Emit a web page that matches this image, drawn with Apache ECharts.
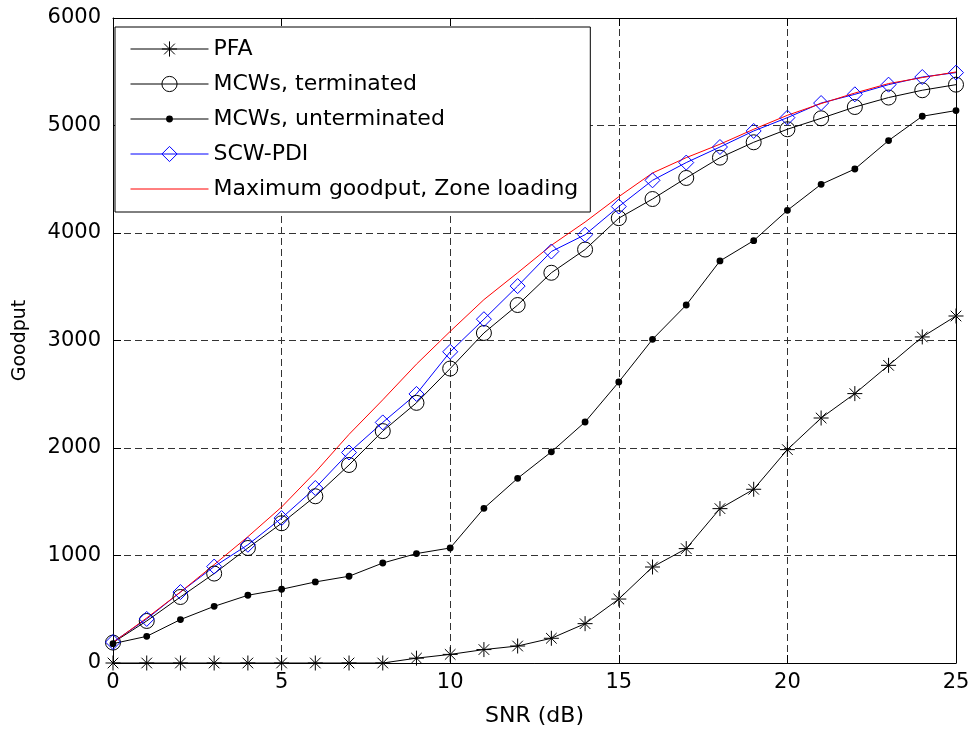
<!DOCTYPE html>
<html>
<head>
<meta charset="utf-8">
<title>Goodput vs SNR</title>
<script src="https://cdn.jsdelivr.net/npm/echarts@6/dist/echarts.min.js"></script>
<style>
  html, body { margin: 0; padding: 0; background: #fff; }
  #chart { width: 974px; height: 733px; }
</style>
</head>
<body>
<div id="chart"></div>
<script>
// SNR sweep (dB)
const snr = [0, 1, 2, 3, 4, 5, 6, 7, 8, 9, 10, 11, 12, 13, 14, 15, 16, 17, 18, 19, 20, 21, 22, 23, 24, 25];

// Goodput per scheme
const pfa = [0, 0, 0, 0, 0, 0, 0, 0, 0, 45, 80, 125, 158, 230, 366, 595, 893, 1064, 1436, 1616, 1985, 2279, 2506, 2769, 3033, 3228];
const mcwTerminated = [190, 391, 614, 832, 1070, 1300, 1551, 1842, 2157, 2420, 2739, 3070, 3330, 3630, 3846, 4138, 4316, 4512, 4701, 4844, 4965, 5067, 5172, 5260, 5328, 5380];
const mcwUnterminated = [180, 248, 404, 527, 630, 686, 754, 807, 930, 1018, 1070, 1439, 1718, 1964, 2242, 2614, 3011, 3330, 3740, 3929, 4211, 4453, 4595, 4860, 5086, 5139];
const scwPdi = [195, 410, 660, 897, 1100, 1348, 1628, 1958, 2238, 2503, 2895, 3198, 3506, 3828, 3984, 4246, 4490, 4655, 4800, 4949, 5073, 5209, 5290, 5380, 5451, 5492];
const maxGoodput = [190, 419, 660, 915, 1175, 1451, 1775, 2127, 2448, 2780, 3085, 3380, 3630, 3886, 4102, 4338, 4558, 4701, 4826, 4965, 5095, 5204, 5302, 5390, 5446, 5498];

const seriesNames = [
  'PFA',
  'MCWs, terminated',
  'MCWs, unterminated',
  'SCW-PDI',
  'Maximum goodput, Zone loading'
];

// Axis ticks
const xTicks = { min: 0, max: 25, interval: 5 };
const yTicks = { min: 0, max: 6000, interval: 1000 };

const FONT = 'DejaVu Sans';
// asterisk marker: plus and cross strokes
const STAR = 'path://M10,0L10,20M0,10L20,10M2.93,2.93L17.07,17.07M17.07,2.93L2.93,17.07';
// small filled dot inside a 20x20 box (corner points keep the box size)
const DOT = 'path://M0,0L0,0L0,0ZM20,20L20,20L20,20ZM5.5,10A4.5,4.5,0,1,1,14.5,10A4.5,4.5,0,1,1,5.5,10Z';

function pairs(ys) {
  return snr.map((x, i) => [x, ys[i]]);
}

const axisBase = {
  type: 'value',
  axisLine: { show: true, onZero: false, lineStyle: { color: '#000', width: 1 } },
  axisTick: { show: true, inside: true, length: 8, lineStyle: { color: '#000', width: 1 } }
};
const gridLine = { show: true, lineStyle: { color: '#333', width: 1, type: [7, 4] } };
const tickLabel = { color: '#000', fontFamily: FONT, fontSize: 21, formatter: (v) => String(v) };

const chart = echarts.init(document.getElementById('chart'), null, { renderer: 'canvas' });

chart.setOption({
  animation: false,
  backgroundColor: '#fff',
  grid: { left: 113, right: 18, top: 18, bottom: 70, containLabel: false, outerBoundsMode: 'none' },
  xAxis: [
    Object.assign({}, axisBase, xTicks, {
      position: 'bottom',
      axisLabel: Object.assign({ margin: 9 }, tickLabel),
      splitLine: gridLine,
      name: 'SNR (dB)',
      nameLocation: 'middle',
      nameGap: 42,
      nameTextStyle: { color: '#000', fontFamily: FONT, fontSize: 22 }
    }),
    Object.assign({}, axisBase, xTicks, {
      position: 'top',
      axisLabel: { show: false },
      splitLine: { show: false }
    })
  ],
  yAxis: [
    Object.assign({}, axisBase, yTicks, {
      position: 'left',
      axisLabel: Object.assign({ margin: 12 }, tickLabel),
      splitLine: gridLine,
      name: 'Goodput',
      nameLocation: 'middle',
      nameGap: 83,
      nameTextStyle: { color: '#000', fontFamily: FONT, fontSize: 19 }
    }),
    Object.assign({}, axisBase, yTicks, {
      position: 'right',
      axisLabel: { show: false },
      splitLine: { show: false }
    })
  ],
  legend: {
    orient: 'vertical',
    left: 115,
    top: 27,
    padding: [11, 12, 12, 15],
    itemWidth: 78,
    itemHeight: 19,
    itemGap: 13,
    backgroundColor: '#fff',
    borderColor: '#000',
    borderWidth: 1,
    borderRadius: 0,
    selectedMode: false,
    textStyle: { color: '#000', fontFamily: FONT, fontSize: 22, lineHeight: 22 },
    itemStyle: { borderWidth: 1 },
    lineStyle: { width: 1 },
    data: [
      { name: seriesNames[0] },
      { name: seriesNames[1] },
      { name: seriesNames[2], itemStyle: { borderWidth: 0 } },
      { name: seriesNames[3] },
      { name: seriesNames[4], itemStyle: { opacity: 0 } }
    ]
  },
  series: [
    {
      name: seriesNames[0],
      type: 'line',
      data: pairs(pfa),
      symbol: STAR,
      symbolSize: 15,
      lineStyle: { color: '#000', width: 1 },
      itemStyle: { color: 'none', borderColor: '#000', borderWidth: 1 },
      emphasis: { disabled: true },
      silent: true
    },
    {
      name: seriesNames[1],
      type: 'line',
      data: pairs(mcwTerminated),
      symbol: 'circle',
      symbolSize: 15,
      lineStyle: { color: '#000', width: 1 },
      itemStyle: { color: 'none', borderColor: '#000', borderWidth: 1 },
      emphasis: { disabled: true },
      silent: true
    },
    {
      name: seriesNames[2],
      type: 'line',
      data: pairs(mcwUnterminated),
      symbol: DOT,
      symbolSize: 15.2,
      lineStyle: { color: '#000', width: 1 },
      itemStyle: { color: '#000', borderWidth: 0 },
      emphasis: { disabled: true },
      silent: true
    },
    {
      name: seriesNames[3],
      type: 'line',
      data: pairs(scwPdi),
      symbol: 'diamond',
      symbolSize: 15,
      lineStyle: { color: '#0000ff', width: 1 },
      itemStyle: { color: 'none', borderColor: '#0000ff', borderWidth: 1 },
      emphasis: { disabled: true },
      silent: true
    },
    {
      name: seriesNames[4],
      type: 'line',
      data: pairs(maxGoodput),
      symbol: 'none',
      showSymbol: false,
      lineStyle: { color: '#ff0000', width: 1 },
      itemStyle: { color: '#ff0000' },
      emphasis: { disabled: true },
      silent: true
    }
  ]
});
</script>
</body>
</html>
